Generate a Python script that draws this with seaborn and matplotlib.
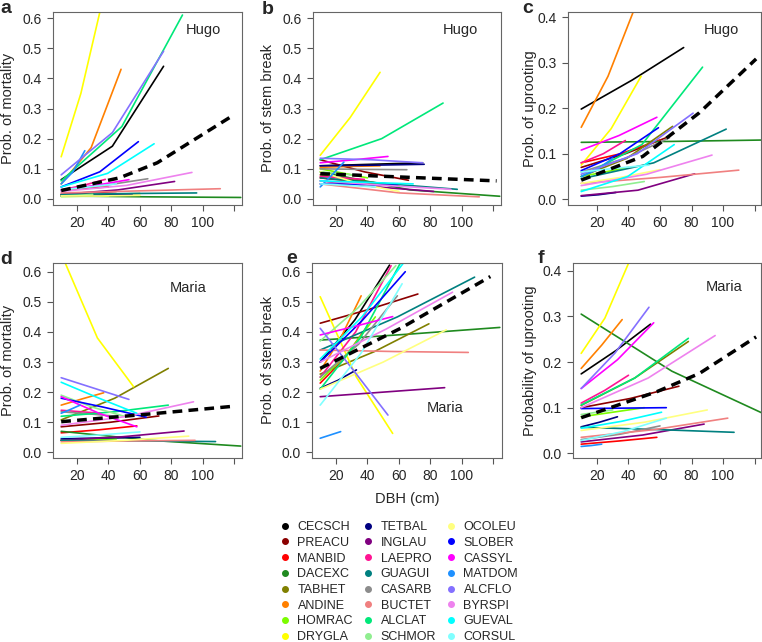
import numpy as np
import pandas as pd
import seaborn as sns
import matplotlib.pyplot as plt
from matplotlib.lines import Line2D

species = ['CECSCH', 'PREACU', 'MANBID', 'DACEXC', 'TABHET', 'ANDINE', 'HOMRAC', 'DRYGLA',
           'TETBAL', 'INGLAU', 'LAEPRO', 'GUAGUI', 'CASARB', 'BUCTET', 'ALCLAT', 'SCHMOR',
           'OCOLEU', 'SLOBER', 'CASSYL', 'MATDOM', 'ALCFLO', 'BYRSPI', 'GUEVAL', 'CORSUL']
colors = ['#000000', '#8B0000', '#FF0000', '#1F8A1F', '#808000', '#FF8000', '#7CFC00', '#FFFF00',
          '#000080', '#800080', '#FF1493', '#008080', '#8C8C8C', '#F08080', '#00E87A', '#90EE90',
          '#FFFF80', '#0000FF', '#FF00FF', '#1E90FF', '#8470FF', '#EE82EE', '#00FFFF', '#80FFFF']

# per species: DBH start, DBH end, prob at start, at middle, at end
hugo_mort = [(10, 75, .064, .175, .44), (10, 45, .015, .02, .025), (10, 40, .03, .035, .04),
             (10, 124, .01, .007, .005), (10, 60, .012, .015, .018), (10, 48, .05, .17, .43),
             (10, 40, .008, .009, .01), (10, 35, .14, .35, .63), (10, 55, .01, .012, .015),
             (10, 82, .015, .03, .058), (10, 38, .03, .045, .065), (10, 96, .015, .018, .02),
             (10, 65, .03, .045, .067), (10, 111, .02, .027, .034), (10, 87, .06, .24, .61),
             (10, 30, .01, .012, .015), (10, 60, .01, .01, .012), (10, 59, .04, .09, .19),
             (10, 53, .03, .045, .064), (10, 25, .05, .09, .16), (10, 75, .08, .22, .49),
             (10, 93, .025, .045, .088), (10, 69, .04, .085, .183), (10, 45, .03, .04, .05)]
hugo_stem = [(10, 75, .11, .115, .12), (10, 66, .13, .09, .062), (10, 45, .07, .06, .05),
             (10, 124, .09, .03, .009), (10, 60, .08, .06, .045), (10, 48, .105, .108, .11),
             (10, 40, .1, .085, .07), (10, 48, .145, .27, .42), (10, 76, .11, .112, .115),
             (10, 82, .06, .04, .025), (10, 38, .075, .07, .065), (10, 97, .07, .05, .032),
             (10, 65, .1, .098, .097), (10, 111, .05, .02, .007), (10, 88, .13, .2, .318),
             (10, 30, .09, .085, .08), (10, 60, .09, .05, .025), (10, 59, .05, .048, .045),
             (10, 53, .12, .13, .141), (10, 25, .04, .08, .122), (10, 75, .135, .13, .12),
             (10, 93, .06, .045, .032), (10, 69, .06, .055, .05), (10, 45, .05, .045, .04)]
hugo_uproot = [(10, 75, .198, .262, .333), (10, 66, .07, .1, .138), (10, 60, .08, .1, .13),
               (10, 124, .125, .127, .13), (10, 68, .05, .09, .16), (10, 44, .158, .27, .42),
               (10, 40, .05, .06, .07), (10, 48, .075, .155, .27), (10, 32, .007, .01, .015),
               (10, 82, .008, .02, .056), (10, 38, .08, .1, .129), (10, 102, .045, .08, .154),
               (10, 66, .06, .09, .135), (10, 110, .035, .048, .064), (10, 87, .05, .12, .29),
               (10, 50, .02, .028, .039), (10, 60, .035, .048, .065), (10, 59, .063, .1, .157),
               (10, 58, .108, .14, .18), (10, 30, .05, .065, .09), (10, 81, .055, .1, .189),
               (10, 93, .03, .055, .097), (10, 69, .017, .05, .12), (10, 53, .06, .068, .075)]
maria_mort = [(10, 50, .04, .045, .05), (10, 72, .085, .1, .121), (10, 58, .065, .075, .088),
              (10, 124, .07, .04, .021), (10, 78, .108, .18, .279), (10, 37, .157, .178, .198),
              (10, 45, .04, .042, .045), (10, 56, .66, .38, .218), (10, 60, .045, .048, .05),
              (10, 88, .04, .052, .071), (10, 35, .14, .135, .13), (10, 108, .04, .038, .036),
              (10, 45, .135, .128, .12), (10, 95, .035, .038, .04), (10, 78, .12, .135, .157),
              (10, 50, .19, .15, .12), (10, 91, .03, .04, .054), (10, 64, .18, .15, .117),
              (10, 58, .185, .13, .085), (10, 22, .13, .143, .157), (10, 53, .248, .212, .176),
              (10, 94, .09, .12, .168), (10, 58, .233, .18, .13), (10, 60, .05, .058, .068)]
maria_stem = [(10, 54, .30, .44, .622), (10, 72, .429, .475, .526), (10, 40, .23, .31, .42),
              (10, 124, .373, .393, .415), (10, 79, .26, .335, .427), (10, 36, .27, .38, .52),
              (10, 45, .24, .33, .45), (10, 56, .517, .25, .063), (10, 33, .213, .24, .274),
              (10, 89, .185, .2, .215), (10, 55, .25, .4, .62), (10, 108, .34, .45, .582),
              (10, 59, .25, .36, .52), (10, 104, .34, .335, .332), (10, 61, .21, .38, .63),
              (10, 58, .37, .48, .62), (10, 90, .21, .3, .407), (10, 64, .30, .44, .6),
              (10, 56, .39, .42, .451), (10, 23, .047, .058, .069), (10, 53, .412, .27, .124),
              (10, 94, .3, .41, .532), (10, 63, .31, .45, .63), (10, 62, .157, .33, .56)]
maria_uproot = [(10, 54, .174, .225, .283), (10, 72, .1, .12, .147), (10, 58, .02, .027, .035),
                (10, 125, .305, .18, .088), (10, 78, .105, .165, .245), (10, 36, .186, .237, .293),
                (10, 50, .08, .09, .1), (10, 40, .219, .296, .416), (10, 33, .058, .068, .08),
                (10, 88, .025, .04, .064), (10, 40, .11, .138, .171), (10, 107, .057, .052, .046),
                (10, 60, .03, .042, .06), (10, 103, .035, .052, .077), (10, 78, .106, .165, .252),
                (10, 30, .085, .09, .095), (10, 90, .05, .068, .095), (10, 64, .098, .099, .1),
                (10, 56, .142, .205, .286), (10, 23, .015, .017, .02), (10, 53, .142, .22, .32),
                (10, 95, .1, .165, .258), (10, 61, .055, .07, .09), (10, 64, .028, .048, .077)]

# community mean (dashed)
mean_x = {'a': [10, 47, 71, 120], 'b': [10, 65, 122], 'c': [10, 49, 85, 121],
          'd': [10, 65, 121], 'e': [10, 61, 118], 'f': [10, 58, 85, 121]}
mean_y = {'a': [.028, .07, .12, .28], 'b': [.084, .072, .06], 'c': [.042, .094, .19, .308],
          'd': [.102, .127, .154], 'e': [.279, .412, .584], 'f': [.078, .135, .175, .255]}


def to_frame(rows):
    recs = []
    for sp, (x0, x1, y0, ym, y1) in zip(species, rows):
        for x, y in ((x0, y0), ((x0 + x1) / 2, ym), (x1, y1)):
            recs.append((sp, x, y))
    return pd.DataFrame(recs, columns=['species', 'DBH', 'prob'])


sns.set_theme(style='ticks')
plt.rcParams['font.family'] = ['Liberation Sans', 'DejaVu Sans']
palette = dict(zip(species, colors))

W, H = 762, 642
fig = plt.figure(figsize=(W / 100, H / 100), dpi=100)

# letter, data, ylabel, yticks, storm, text pos, box (l, r, t, b), xlim, ylim, label right px
panels = [
    ('a', hugo_mort, 'Prob. of mortality', [0, .1, .2, .3, .4, .5, .6], 'Hugo', (203, 30),
     (53, 242, 12, 205), (4.8, 124.8), (-.02, .62), 15),
    ('b', hugo_stem, 'Prob. of stem break', [0, .1, .2, .3, .4, .5, .6], 'Hugo', (460, 30),
     (313, 501, 12, 205), (5.4, 124.8), (-.02, .62), 275),
    ('c', hugo_uproot, 'Prob. of uprooting', [0, .1, .2, .3, .4], 'Hugo', (721, 30),
     (568, 761, 12, 205), (1.6, 124.1), (-.0125, .411), 537),
    ('d', maria_mort, 'Prob. of mortality', [0, .1, .2, .3, .4, .5, .6], 'Maria', (188, 288),
     (53, 242, 263, 458), (4.8, 124.8), (-.0186, .629), 15),
    ('e', maria_stem, 'Prob. of stem break', [0, .1, .2, .3, .4, .5, .6], 'Maria', (445, 408),
     (312, 502, 263, 458), (4.8, 125.4), (-.0186, .629), 275),
    ('f', maria_uproot, 'Probability of uprooting', [0, .1, .2, .3, .4], 'Maria', (724, 287),
     (573, 761, 263, 458), (4.8, 124.1), (-.0103, .417), 537),
]

for letter, rows, ylab, yticks, storm, tpos, box, xlim, ylim, lab_px in panels:
    l, r, t, b = box
    ax = fig.add_axes([l / W, 1 - b / H, (r - l) / W, (b - t) / H])
    df = to_frame(rows)
    sns.lineplot(data=df, x='DBH', y='prob', hue='species', palette=palette,
                 estimator=None, legend=False, lw=1.2, ax=ax)
    sns.lineplot(x=mean_x[letter], y=mean_y[letter], color='black', lw=2.5,
                 linestyle=(0, (2.8, 1.8)), estimator=None, ax=ax)
    ax.set_xlim(*xlim)
    ax.set_ylim(*ylim)
    ax.set_xticks([20, 40, 60, 80, 100, 120])
    ax.set_xticklabels(['20', '40', '60', '80', '100', ''])
    ax.set_yticks(yticks)
    ax.set_yticklabels([f'{v:.1f}' for v in yticks])
    ax.tick_params(length=4, width=0.8, color='#555555', labelsize=10, pad=4)
    for s in ax.spines.values():
        s.set_color('#666666')
        s.set_linewidth(0.8)
    ax.set_ylabel(ylab, fontsize=10.5)
    ax.yaxis.set_label_coords((lab_px - l) / (r - l), 0.5)
    if letter == 'e':
        ax.set_xlabel('DBH (cm)', fontsize=10.5)
        ax.xaxis.set_label_coords(0.5, (b - 492) / (b - t))
    else:
        ax.set_xlabel('')
    fig.text(tpos[0] / W, 1 - tpos[1] / H, storm, ha='center', va='center', fontsize=10.5)

letter_pos = {'a': (0, 13), 'b': (262, 14), 'c': (522, 13), 'd': (0, 264), 'e': (286, 263), 'f': (538, 263)}
for k, (px, py) in letter_pos.items():
    fig.text(px / W, 1 - py / H, k, fontsize=14, fontweight='bold', va='baseline', ha='left')

handles = [Line2D([], [], ls='', marker='o', markersize=4, color=c) for c in colors]
fig.legend(handles, species, ncol=3, loc='upper left', bbox_to_anchor=(280 / W, 1 - 521 / H),
           frameon=False, fontsize=9, handlelength=0.8, handletextpad=0.6,
           columnspacing=0.8, labelspacing=0.3, borderpad=0, borderaxespad=0)

fig.savefig('out.png', dpi=100)
